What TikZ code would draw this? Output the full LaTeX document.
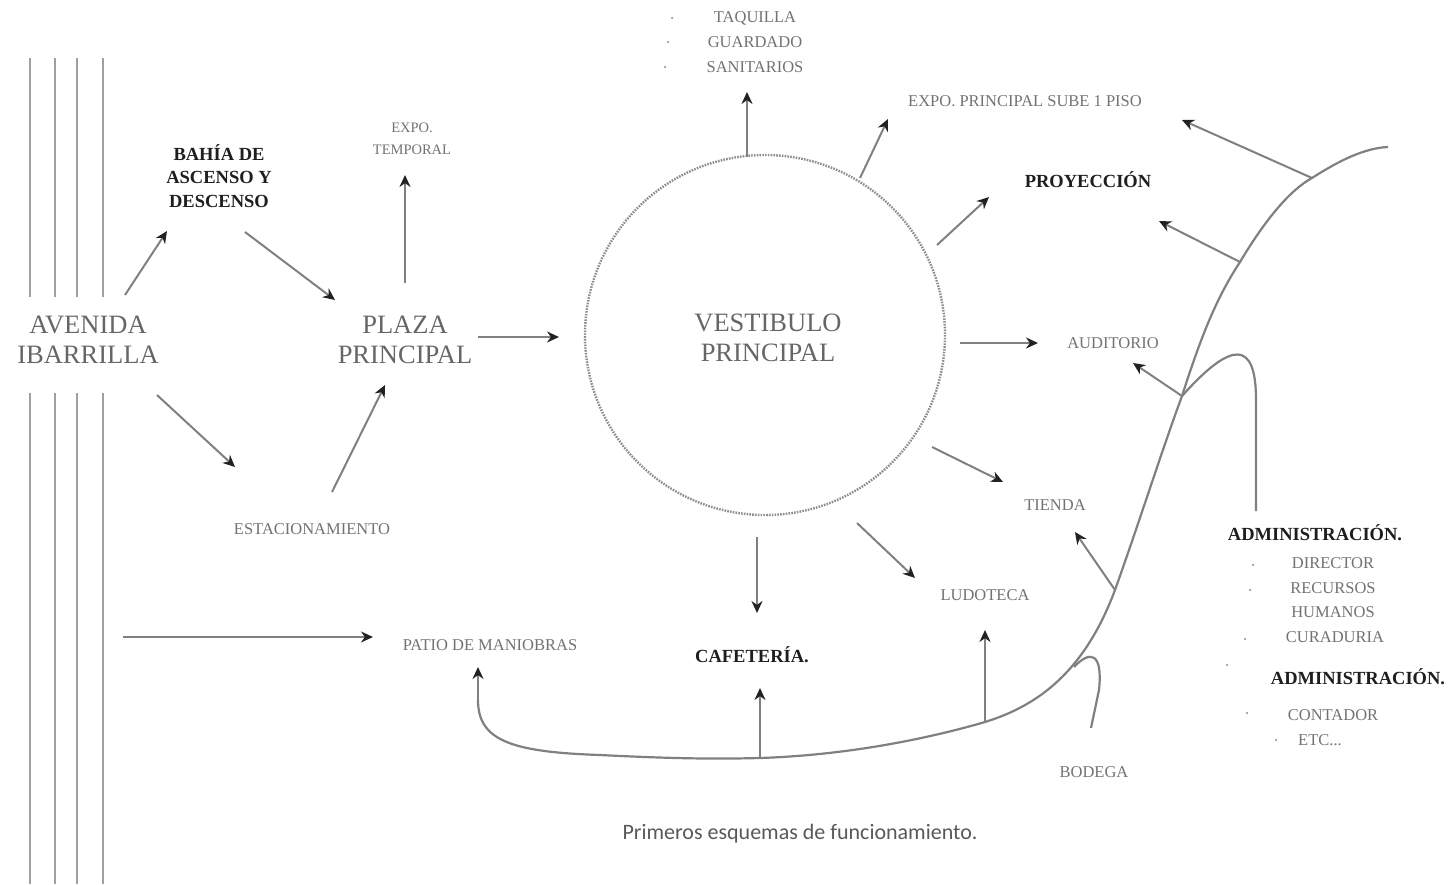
\documentclass[tikz,border=0pt]{standalone}
\usepackage{fontspec}
\setmainfont{Liberation Serif}
\newfontfamily\capfont{Carlito}
\usetikzlibrary{arrows.meta}
\definecolor{txt}{HTML}{727272}
\definecolor{big}{HTML}{666666}
\definecolor{bld}{HTML}{1E1E1E}
\definecolor{ln}{HTML}{808080}
\definecolor{hd}{HTML}{222222}
\tikzset{
  lbl/.style={text=txt,font=\fontsize{16.5}{24}\selectfont,align=center,inner sep=0pt},
  bold/.style={text=bld,font=\fontsize{18.5}{23.5}\selectfont\bfseries,align=center,inner sep=0pt},
  large/.style={text=big,font=\fontsize{26.5}{30}\selectfont,align=center,inner sep=0pt},
  arr/.style={draw=ln,line width=2pt,-{Stealth[length=12pt,width=11pt,fill=hd,color=hd]}},
  road/.style={draw=ln!75,line width=2.8pt},
  flow/.style={draw=ln,line width=2.2pt},
  bul/.style={fill=txt!70,circle,inner sep=0pt,minimum size=2.5pt},
}
\begin{document}
\begin{tikzpicture}[x=1pt,y=-1pt]
\useasboundingbox (0,0) rectangle (1451,884);
% road lines
\foreach \xx in {30,55,77,103}{
  \draw[road] (\xx,58) -- (\xx,297);
  \draw[road] (\xx,393) -- (\xx,884);
}
% main circle
\draw[ln!90,line width=2.4pt,dash pattern=on 1.6pt off 1.2pt] (765,335) circle[radius=180];
% nodes
\node[large] (ave) at (88,340) {AVENIDA\\IBARRILLA};
\node[bold] (bahia) at (219,176) {BAHÍA DE\\ASCENSO Y\\DESCENSO};
\node[lbl,font=\fontsize{14.5}{22}\selectfont] (expot) at (412,139) {EXPO.\\TEMPORAL};
\node[large] (plaza) at (405,340) {PLAZA\\PRINCIPAL};
\node[large] (vest) at (768,338) {VESTIBULO\\PRINCIPAL};
\node[lbl] (estac) at (312,529) {ESTACIONAMIENTO};
\node[lbl] (patio) at (490,645) {PATIO DE MANIOBRAS};
\node[bold] (cafe) at (752,655) {CAFETERÍA.};
\node[lbl] (ludo) at (985,595) {LUDOTECA};
\node[lbl] (tienda) at (1055,505) {TIENDA};
\node[lbl] (audi) at (1113,343) {AUDITORIO};
\node[bold] (proy) at (1088,180) {PROYECCIÓN};
\node[lbl] (expop) at (1025,101) {EXPO. PRINCIPAL SUBE 1 PISO};
\node[lbl] (taq) at (755,18) {TAQUILLA};
\node[lbl] (guar) at (755,42) {GUARDADO};
\node[lbl] (sani) at (755,67) {SANITARIOS};
\node[lbl] (bodega) at (1094,772) {BODEGA};
\node[bold] (adm1) at (1315,533) {ADMINISTRACIÓN.};
\node[lbl] (dir) at (1333,563) {DIRECTOR};
\node[lbl] (rh) at (1333,600) {RECURSOS\\HUMANOS};
\node[lbl] (cur) at (1335,637) {CURADURIA};
\node[bold] (adm2) at (1358,677) {ADMINISTRACIÓN.};
\node[lbl] (cont) at (1333,715) {CONTADOR};
\node[lbl] (etc) at (1320,740) {ETC...};
\node[text=black!65,font=\capfont\fontsize{22}{26}\selectfont,inner sep=0pt] (cap) at (800,834) {Primeros esquemas de funcionamiento.};
% bullets
\foreach \bx/\by in {672/18,668/42,665/67,1253/565,1250/590,1245/639,1227/665,1247/713,1276/740}{
  \node[bul] at (\bx,\by) {};
}
% connector endpoints
\coordinate (a1) at (125,295); \coordinate (b1) at (167,231);
\coordinate (a2) at (245,232); \coordinate (b2) at (335,300);
\coordinate (a3) at (405,283); \coordinate (b3) at (405,175);
\coordinate (a4) at (157,395); \coordinate (b4) at (235,467);
\coordinate (a5) at (332,492); \coordinate (b5) at (385,385);
\coordinate (a6) at (478,337); \coordinate (b6) at (559,337);
\coordinate (a7) at (123,637); \coordinate (b7) at (373,637);
\coordinate (a8) at (747,157); \coordinate (b8) at (747,92);
\coordinate (a9) at (860,178); \coordinate (b9) at (888,119);
\coordinate (a10) at (937,245); \coordinate (b10) at (989,197);
\coordinate (a11) at (960,343); \coordinate (b11) at (1038,343);
\coordinate (a12) at (932,447); \coordinate (b12) at (1003,482);
\coordinate (a13) at (857,523); \coordinate (b13) at (915,578);
\coordinate (a14) at (757,537); \coordinate (b14) at (757,613);
\draw[arr] (a1) -- (b1);
\draw[arr] (a2) -- (b2);
\draw[arr] (a3) -- (b3);
\draw[arr] (a4) -- (b4);
\draw[arr] (a5) -- (b5);
\draw[arr] (a6) -- (b6);
\draw[arr] (a7) -- (b7);
\draw[arr] (a8) -- (b8);
\draw[arr] (a9) -- (b9);
\draw[arr] (a10) -- (b10);
\draw[arr] (a11) -- (b11);
\draw[arr] (a12) -- (b12);
\draw[arr] (a13) -- (b13);
\draw[arr] (a14) -- (b14);
% service flow curve
\coordinate (c0) at (478,700);
\coordinate (c1) at (760,758);
\coordinate (c2) at (985,722);
\coordinate (c3) at (1115,590);
\coordinate (c4) at (1182,396);
\coordinate (c5) at (1240,262);
\coordinate (c6) at (1312,178);
\coordinate (c7) at (1388,147);
\draw[flow] (c0) .. controls (478,740) and (510,752) .. (600,755)
  .. controls (680,759) and (720,759) .. (c1)
  .. controls (850,755) and (930,738) .. (c2)
  .. controls (1040,705) and (1085,670) .. (c3)
  .. controls (1140,520) and (1162,450) .. (c4)
  .. controls (1200,340) and (1215,300) .. (c5)
  .. controls (1265,220) and (1290,190) .. (c6)
  .. controls (1340,160) and (1365,148) .. (c7);
\coordinate (p0) at (478,667);
\draw[arr] (c0) -- (p0);
\coordinate (q1) at (760,688); \draw[arr] (c1) -- (q1);
\coordinate (q2) at (985,630); \draw[arr] (c2) -- (q2);
\coordinate (q3) at (1075,532); \draw[arr] (c3) -- (q3);
\coordinate (q4) at (1133,363); \draw[arr] (c4) -- (q4);
\coordinate (q5) at (1159,221); \draw[arr] (c5) -- (q5);
\coordinate (q6) at (1182,120); \draw[arr] (c6) -- (q6);
% administracion hook
\coordinate (h0) at (1256,511);
\draw[flow] (h0) -- (1256,400) .. controls (1256,340) and (1232,340) .. (c4);
% bodega hook
\coordinate (g0) at (1074,667);
\coordinate (g1) at (1091,728);
\draw[flow] (g0) .. controls (1090,650) and (1103,652) .. (1099,690) -- (g1);
\end{tikzpicture}
\end{document}
